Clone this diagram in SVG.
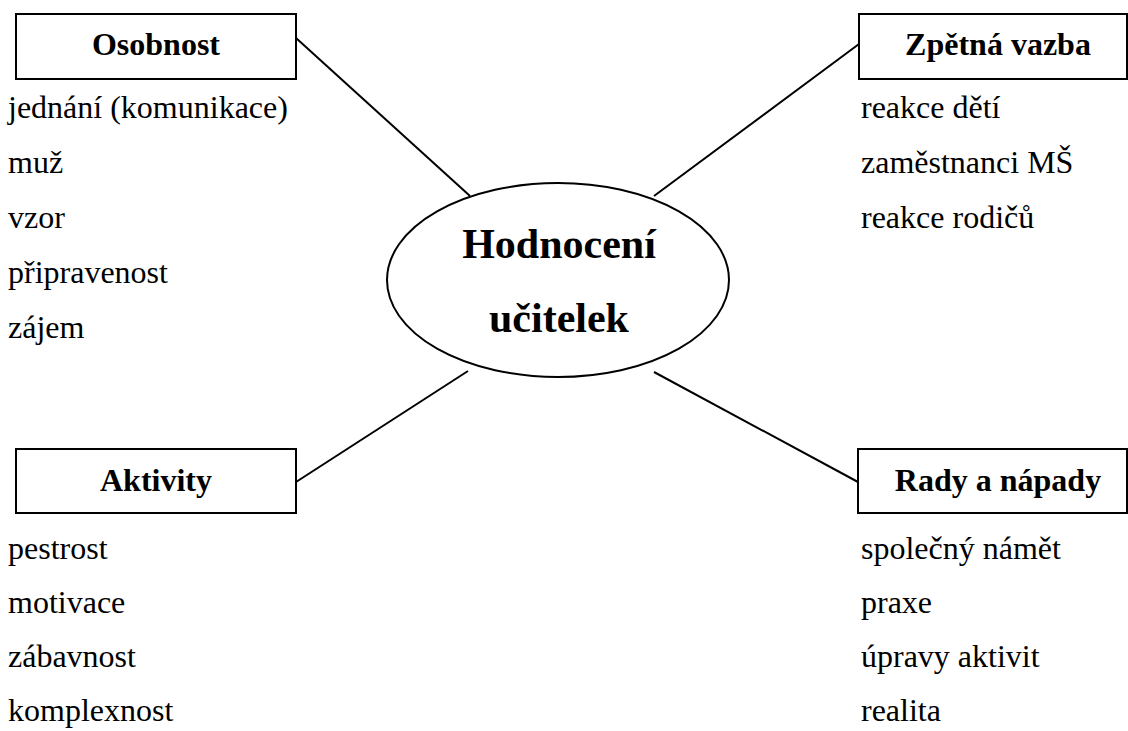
<svg xmlns="http://www.w3.org/2000/svg" width="1128" height="731" viewBox="0 0 1128 731">
<style>
.box{fill:#fff;stroke:#000;stroke-width:2}
.hd{font-family:"Liberation Serif","Times New Roman",serif;font-weight:bold;font-size:32px;text-anchor:middle;fill:#000}
.it{font-family:"Liberation Serif","Times New Roman",serif;font-size:32px;fill:#000}
.ct{font-family:"Liberation Serif","Times New Roman",serif;font-weight:bold;font-size:42px;text-anchor:middle;fill:#000}
.ln{stroke:#000;stroke-width:2;fill:none}
</style>
<rect width="1128" height="731" fill="#fff"/>
<g id="connectors">
<line class="ln" x1="296" y1="38" x2="470" y2="196"/>
<line class="ln" x1="859" y1="44" x2="654" y2="196"/>
<line class="ln" x1="296" y1="482" x2="468" y2="371"/>
<line class="ln" x1="858" y1="482" x2="654" y2="372"/>
</g>
<g id="center">
<ellipse class="box" cx="558" cy="280" rx="171" ry="97"/>
<text class="ct" x="559" y="258">Hodnocení</text>
<text class="ct" x="559" y="332">učitelek</text>
</g>
<g id="osobnost">
<rect class="box" x="16" y="14" width="280" height="65"/>
<text class="hd" x="156" y="55">Osobnost</text>
<text class="it" x="8" y="118">jednání (komunikace)</text>
<text class="it" x="8" y="173">muž</text>
<text class="it" x="8" y="228">vzor</text>
<text class="it" x="8" y="283">připravenost</text>
<text class="it" x="8" y="338">zájem</text>
</g>
<g id="zpetna-vazba">
<rect class="box" x="859" y="14" width="268" height="65"/>
<text class="hd" x="998" y="55">Zpětná vazba</text>
<text class="it" x="861" y="118">reakce dětí</text>
<text class="it" x="861" y="173">zaměstnanci MŠ</text>
<text class="it" x="861" y="228">reakce rodičů</text>
</g>
<g id="aktivity">
<rect class="box" x="16" y="449" width="280" height="64"/>
<text class="hd" x="156" y="491">Aktivity</text>
<text class="it" x="8" y="559">pestrost</text>
<text class="it" x="8" y="613">motivace</text>
<text class="it" x="8" y="667">zábavnost</text>
<text class="it" x="8" y="721">komplexnost</text>
</g>
<g id="rady-a-napady">
<rect class="box" x="858" y="449" width="269" height="64"/>
<text class="hd" x="998" y="491">Rady a nápady</text>
<text class="it" x="861" y="559">společný námět</text>
<text class="it" x="861" y="613">praxe</text>
<text class="it" x="861" y="667">úpravy aktivit</text>
<text class="it" x="861" y="721">realita</text>
</g>
</svg>
